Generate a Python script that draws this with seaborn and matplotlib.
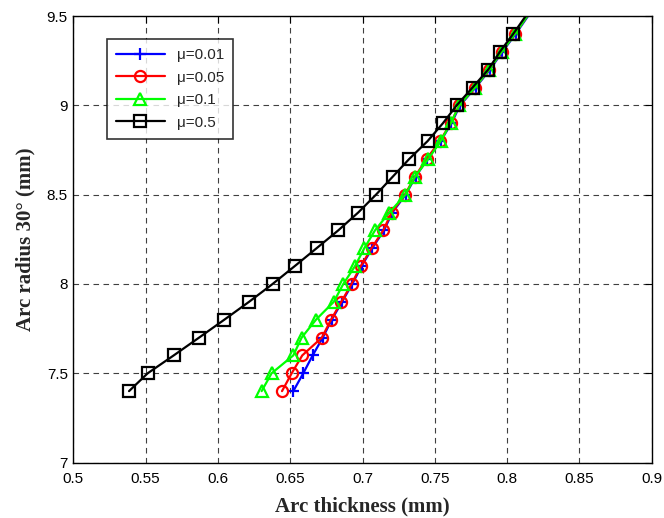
import numpy as np
import pandas as pd
import matplotlib
matplotlib.use("Agg")
import matplotlib.pyplot as plt
import seaborn as sns

# arc radius (mm) at each point, 9.6 is just past the top so the line runs to the edge
radius = [7.4, 7.5, 7.6, 7.7, 7.8, 7.9, 8.0, 8.1, 8.2, 8.3, 8.4,
          8.5, 8.6, 8.7, 8.8, 8.9, 9.0, 9.1, 9.2, 9.3, 9.4, 9.6]

thick_mu001 = [0.6521, 0.6590, 0.6655, 0.6725, 0.6787, 0.6858, 0.6929, 0.6993, 0.7067, 0.7148, 0.7206,
               0.7298, 0.7367, 0.7448, 0.7540, 0.7615, 0.7674, 0.7782, 0.7881, 0.7967, 0.8059, 0.8230]
thick_mu005 = [0.6443, 0.6510, 0.6583, 0.6719, 0.6782, 0.6853, 0.6924, 0.6988, 0.7062, 0.7143, 0.7201,
               0.7293, 0.7362, 0.7443, 0.7535, 0.7610, 0.7669, 0.7777, 0.7876, 0.7962, 0.8054, 0.8225]
thick_mu01 = [0.6302, 0.6371, 0.6521, 0.6579, 0.6678, 0.6801, 0.6867, 0.6948, 0.7012, 0.7086, 0.7185,
              0.7297, 0.7362, 0.7455, 0.7540, 0.7610, 0.7669, 0.7777, 0.7876, 0.7962, 0.8054, 0.8225]
thick_mu05 = [0.5385, 0.5514, 0.5694, 0.5870, 0.6044, 0.6215, 0.6378, 0.6531, 0.6682, 0.6832, 0.6970,
              0.7093, 0.7208, 0.7323, 0.7450, 0.7556, 0.7651, 0.7761, 0.7869, 0.7950, 0.8042, 0.8215]

labels = ["μ=0.01", "μ=0.05", "μ=0.1", "μ=0.5"]
colors = ["#0000ff", "#ff0000", "#00ff00", "#000000"]
markers = ["+", "o", "^", "s"]
xticks = [0.5, 0.55, 0.6, 0.65, 0.7, 0.75, 0.8, 0.85, 0.9]
yticks = [7, 7.5, 8, 8.5, 9, 9.5]

sns.set_style("white")
plt.rcParams["font.family"] = ["Liberation Sans", "DejaVu Sans"]

fig = plt.figure(figsize=(6.64, 5.18), dpi=100)
ax = fig.add_axes([0.1105, 0.107, 0.871, 0.862])

for serie, lab, col, mk in zip([thick_mu001, thick_mu005, thick_mu01, thick_mu05], labels, colors, markers):
    df = pd.DataFrame({"x": serie, "y": radius})
    sns.lineplot(data=df, x="x", y="y", ax=ax, sort=False, estimator=None,
                 color=col, marker=mk, markersize=8, markerfacecolor="none",
                 markeredgecolor=col, markeredgewidth=1.6, linewidth=1.6, label=lab)

ax.set_xlim(0.5, 0.9)
ax.set_ylim(7, 9.5)
ax.set_xticks(xticks)
ax.set_xticklabels([f"{t:g}" for t in xticks])
ax.set_yticks(yticks)
ax.set_yticklabels([f"{t:g}" for t in yticks])
ax.tick_params(direction="in", length=5, width=0.8, top=True, right=True,
               labelsize=11, colors="black")
ax.tick_params(axis="x", pad=7)
ax.tick_params(axis="y", pad=4)
ax.grid(True, color="#404040", linestyle=(0, (5, 4)), linewidth=0.8)
for s in ax.spines.values():
    s.set_color("black")
    s.set_linewidth(1.0)

ax.set_xlabel("Arc thickness (mm)", family="Liberation Serif", fontweight="bold", fontsize=15, labelpad=7)
ax.set_ylabel("Arc radius 30° (mm)", family="Liberation Serif", fontweight="bold", fontsize=15, labelpad=8)

leg = ax.legend(loc="upper left", bbox_to_anchor=(0.0576, 0.948), borderaxespad=0,
                fontsize=11, frameon=True, fancybox=False, handlelength=3.2,
                borderpad=0.6, labelspacing=0.55)
leg.get_frame().set_edgecolor("black")
leg.get_frame().set_linewidth(1.2)

fig.savefig("out.png", dpi=100, facecolor="white")
